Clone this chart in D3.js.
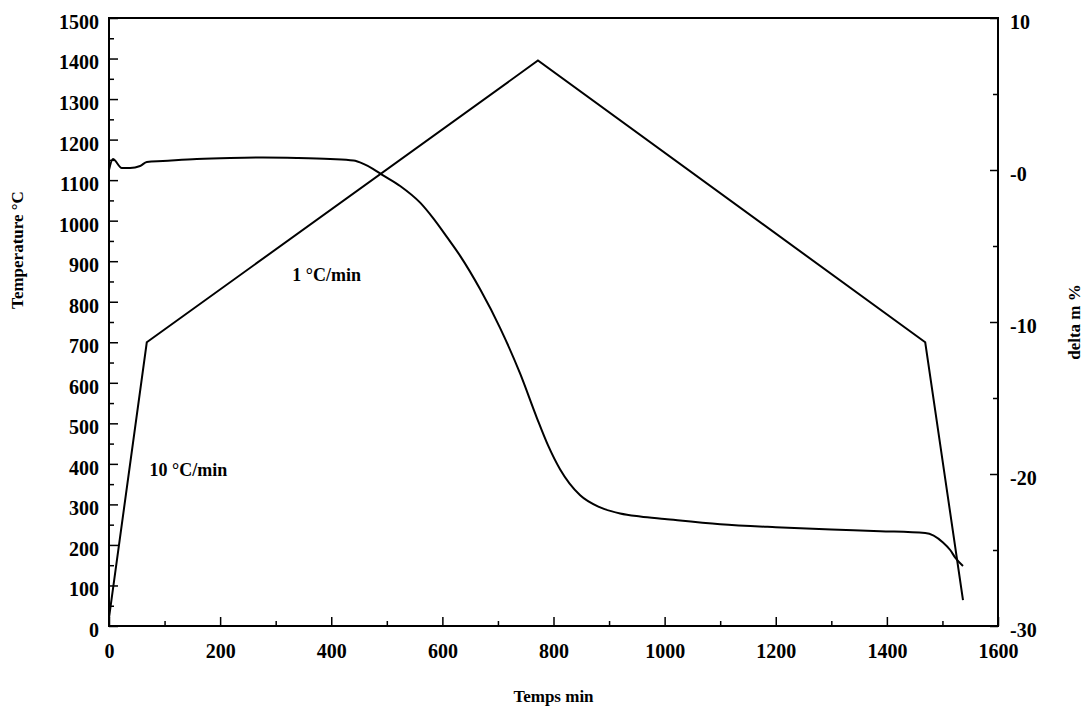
<!DOCTYPE html>
<html>
<head>
<meta charset="utf-8">
<script src="https://cdn.jsdelivr.net/npm/d3@7"></script>
<style>
  body { margin: 0; background: #fff; }
  .tick text { font-family: "Liberation Serif", "Times New Roman", serif; font-weight: bold; font-size: 20px; fill: #000; }
  .lbl { font-family: "Liberation Serif", "Times New Roman", serif; font-weight: bold; font-size: 17px; fill: #000; }
  .note { font-family: "Liberation Serif", "Times New Roman", serif; font-weight: bold; font-size: 18px; fill: #000; }
</style>
</head>
<body>
<svg id="chart" width="1085" height="707"></svg>
<script>
// temperature programme (left axis, degC)
var tempTime = [0, 68, 772, 1469, 1537];
var tempValues = [20, 700, 1395, 700, 64];

// mass change (right axis, %)
var massTime = [0, 7, 23, 38, 56, 68, 97, 158, 218, 277, 338, 398, 440, 458, 475, 491, 524, 560, 583, 608, 632,
  668, 704, 740, 770, 790, 812, 848, 884, 920, 956, 1000, 1100, 1200, 1300, 1388, 1469, 1501, 1514, 1523, 1537];
var massValues = [0.0, 0.72, 0.13, 0.13, 0.26, 0.53, 0.59, 0.72, 0.79, 0.82, 0.79, 0.72, 0.62, 0.4, 0.08, -0.3, -1.05, -2.15, -3.15, -4.4, -5.65,
  -7.85, -10.4, -13.4, -16.3, -18.1, -19.7, -21.4, -22.2, -22.6, -22.8, -22.96, -23.3, -23.5, -23.65, -23.76, -23.88, -24.5, -25.0, -25.5, -26.05];

var xTicks = [0, 200, 400, 600, 800, 1000, 1200, 1400, 1600];
var tempTicks = d3.range(0, 1501, 100);
var massTicks = [10, 0, -10, -20, -30];

var plot = { left: 109, right: 998, top: 18, bottom: 626 };

var svg = d3.select("#chart");

var x = d3.scaleLinear().domain([0, 1600]).range([plot.left, plot.right]);
var yT = d3.scaleLinear().domain([0, 1500]).range([plot.bottom, plot.top]);
var yM = d3.scaleLinear().domain([-30, 10]).range([plot.bottom, plot.top]);

// frame
svg.append("rect")
  .attr("x", plot.left).attr("y", plot.top)
  .attr("width", plot.right - plot.left).attr("height", plot.bottom - plot.top)
  .attr("fill", "none").attr("stroke", "#000").attr("stroke-width", 2);

function styleAxis(g) {
  g.select(".domain").remove();
  g.selectAll(".tick line").attr("stroke", "#000").attr("stroke-width", 1.5);
}

// left axis
svg.append("g")
  .attr("transform", "translate(" + plot.left + ",0)")
  .call(d3.axisLeft(yT).tickValues(tempTicks).tickSize(-9).tickPadding(10).tickFormat(d3.format("d")))
  .call(styleAxis)
  .selectAll("text").attr("dy", "0.52em");
svg.append("g")
  .attr("transform", "translate(" + plot.left + ",0)")
  .call(d3.axisLeft(yT).tickValues(d3.range(50, 1500, 100)).tickSize(-5).tickFormat(""))
  .call(styleAxis);

// right axis
svg.append("g")
  .attr("transform", "translate(" + plot.right + ",0)")
  .call(d3.axisRight(yM).tickValues(massTicks).tickSize(-8).tickPadding(12)
    .tickFormat(function (d) { return d > 0 ? d : "-" + Math.abs(d); }))
  .call(styleAxis)
  .selectAll("text").attr("dy", "0.52em");
svg.append("g")
  .attr("transform", "translate(" + plot.right + ",0)")
  .call(d3.axisRight(yM).tickValues([5, -5, -15, -25]).tickSize(-5).tickFormat(""))
  .call(styleAxis);

// bottom axis
svg.append("g")
  .attr("transform", "translate(0," + plot.bottom + ")")
  .call(d3.axisBottom(x).tickValues(xTicks).tickSize(-9).tickPadding(18).tickFormat(d3.format("d")))
  .call(styleAxis);
svg.append("g")
  .attr("transform", "translate(0," + plot.bottom + ")")
  .call(d3.axisBottom(x).tickValues(d3.range(100, 1600, 200)).tickSize(-5).tickFormat(""))
  .call(styleAxis);

// curves
var tempLine = d3.line()
  .x(function (d, i) { return x(tempTime[i]); })
  .y(function (d) { return yT(d); });

svg.append("path")
  .attr("d", tempLine(tempValues))
  .attr("fill", "none").attr("stroke", "#000").attr("stroke-width", 2)
  .attr("stroke-linejoin", "miter");

var massLine = d3.line()
  .x(function (d, i) { return x(massTime[i]); })
  .y(function (d) { return yM(d); })
  .curve(d3.curveMonotoneX);

svg.append("path")
  .attr("d", massLine(massValues))
  .attr("fill", "none").attr("stroke", "#000").attr("stroke-width", 2);

// annotations
svg.append("text").attr("class", "note")
  .attr("x", x(330)).attr("y", yT(850))
  .text("1 °C/min");
svg.append("text").attr("class", "note")
  .attr("x", x(73)).attr("y", yT(370))
  .text("10 °C/min");

// axis titles
svg.append("text").attr("class", "lbl")
  .attr("text-anchor", "middle")
  .attr("transform", "translate(23,250) rotate(-90)")
  .text("Temperature °C");
svg.append("text").attr("class", "lbl")
  .attr("text-anchor", "middle")
  .attr("transform", "translate(1080,322) rotate(-90)")
  .text("delta m %");
svg.append("text").attr("class", "lbl")
  .attr("text-anchor", "middle")
  .attr("x", (plot.left + plot.right) / 2).attr("y", 702)
  .text("Temps min");
</script>
</body>
</html>
